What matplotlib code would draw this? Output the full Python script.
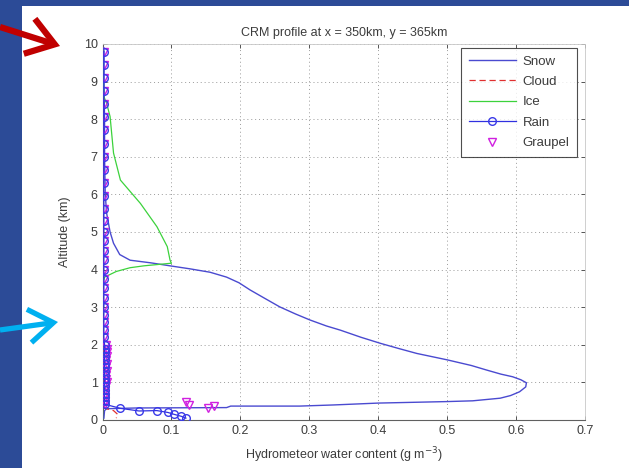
import matplotlib
matplotlib.use("Agg")
import matplotlib.pyplot as plt
from matplotlib.patches import Rectangle, FancyArrowPatch

plt.rcParams['font.family'] = ['Liberation Sans', 'DejaVu Sans']

# ---- profile data (altitude in km, water content in g m^-3) ----
snow_alt = [9.9, 9.0, 8.0, 7.0, 6.0, 5.5, 5.0, 4.7, 4.4, 4.25, 4.18, 4.1, 4.02,
            3.93, 3.8, 3.65, 3.46, 3.25, 3.01, 2.82, 2.66, 2.5, 2.39, 2.2, 2.04,
            1.9, 1.77, 1.6, 1.45, 1.33, 1.22, 1.15, 1.07, 0.99, 0.88, 0.75, 0.65,
            0.58, 0.51, 0.49, 0.45, 0.40, 0.37, 0.37, 0.33, 0.32, 0.30, 0.25, 0.05]
snow_val = [0.002, 0.002, 0.003, 0.003, 0.004, 0.006, 0.011, 0.016, 0.025, 0.04,
            0.07, 0.098, 0.127, 0.156, 0.18, 0.198, 0.214, 0.234, 0.257, 0.28,
            0.301, 0.325, 0.345, 0.375, 0.403, 0.43, 0.456, 0.5, 0.535, 0.557,
            0.578, 0.595, 0.607, 0.615, 0.614, 0.605, 0.592, 0.577, 0.537, 0.5,
            0.40, 0.335, 0.286, 0.186, 0.18, 0.05, 0.006, 0.003, 0.002]

ice_alt = [9.9, 8.6, 8.42, 8.07, 7.1, 6.38, 5.76, 5.14, 4.61, 4.25, 4.17,
           4.1, 4.05, 3.95, 3.8, 3.6, 0.0]
ice_val = [0.0, 0.002, 0.006, 0.011, 0.016, 0.026, 0.055, 0.079, 0.094, 0.098,
           0.1, 0.06, 0.04, 0.02, 0.003, 0.0, 0.0]

cloud_alt = [9.9, 5.0, 2.0, 1.4, 1.2, 0.9, 0.6, 0.4, 0.32, 0.25, 0.15, 0.05]
cloud_val = [0.0, 0.0, 0.0, 0.001, 0.004, 0.004, 0.001, 0.0, 0.002, 0.016, 0.022, 0.02]

levels = [9.8, 9.45, 9.1, 8.75, 8.4, 8.05, 7.7, 7.35, 7.0, 6.65, 6.3, 5.95,
          5.6, 5.3, 5.0, 4.75, 4.5, 4.25, 4.0, 3.75, 3.5, 3.25, 3.0, 2.8,
          2.6, 2.4, 2.2, 2.0, 1.9, 1.8, 1.7, 1.6, 1.5, 1.4, 1.3, 1.2, 1.1,
          1.0, 0.9, 0.8, 0.7, 0.6, 0.5, 0.42]

rain_alt = levels + [0.31, 0.24, 0.25, 0.2, 0.15, 0.1, 0.05]
rain_val = [0.002] * 27 + [0.003] * 17 + [0.026, 0.053, 0.079, 0.095, 0.104, 0.114, 0.121]

graupel_alt = levels + [0.47, 0.40, 0.33, 0.37]
graupel_val = ([0.002] * 27 + [0.005, 0.006, 0.006, 0.006, 0.005, 0.006, 0.005,
                               0.006, 0.005, 0.005, 0.006, 0.005, 0.004, 0.004,
                               0.004, 0.003, 0.003]
               + [0.121, 0.126, 0.153, 0.162])

x_ticks = [0, 0.1, 0.2, 0.3, 0.4, 0.5, 0.6, 0.7]
x_tick_labels = ['0', '0.1', '0.2', '0.3', '0.4', '0.5', '0.6', '0.7']
y_ticks = list(range(0, 11))

W, H = 629, 468
fig = plt.figure(figsize=(W / 100, H / 100), dpi=100)
fig.patch.set_facecolor('#2C4B97')
fig.add_artist(Rectangle((22 / W, 0), (W - 22) / W, (H - 6) / H,
                         transform=fig.transFigure, facecolor='white',
                         edgecolor='none', zorder=-10))

ax = fig.add_axes([102.5 / W, 1 - 420 / H, (585 - 102.5) / W, (420 - 44) / H])
ax.set_facecolor('white')

txt = '#3c3c3c'
ax.plot(snow_val, snow_alt, color='#4a4ad0', lw=1.0, label='Snow', zorder=3)
ax.plot(cloud_val, cloud_alt, color='#e03030', lw=0.9, ls=(0, (5, 3)), label='Cloud', zorder=3)
ax.plot(ice_val, ice_alt, color='#3cd23c', lw=0.9, label='Ice', zorder=3)
ax.plot(rain_val, rain_alt, color='#3030e0', lw=0.9, marker='o', ms=5.5,
        mfc='none', mec='#3a3ae8', mew=1.0, label='Rain', zorder=5)
ax.plot(graupel_val, graupel_alt, ls='none', marker='v', ms=5.5,
        mfc='none', mec='#d020e0', mew=1.0, label='Graupel', zorder=4)

ax.set_xlim(0, 0.7)
ax.set_ylim(0, 10)
ax.set_xticks(x_ticks)
ax.set_xticklabels(x_tick_labels)
ax.set_yticks(y_ticks)
ax.tick_params(direction='in', top=True, right=True, labelsize=9,
               labelcolor=txt, color='#555555', length=3, width=0.7)
ax.grid(True, linestyle=(0, (1, 3)), color='#9a9a9a', linewidth=0.7)
for side in ['bottom', 'left']:
    ax.spines[side].set_color('#606060')
    ax.spines[side].set_linewidth(0.8)
for side in ['top', 'right']:
    ax.spines[side].set_color('#c8c8c8')
    ax.spines[side].set_linewidth(0.6)

ax.set_title('CRM profile at x = 350km, y = 365km', fontsize=9, color=txt, pad=6)
ax.set_xlabel('Hydrometeor water content (g m$^{-3}$)', fontsize=9, color=txt, labelpad=6)
ax.set_ylabel('Altitude (km)', fontsize=9, color=txt, labelpad=9)

handles, labels = ax.get_legend_handles_labels()
leg = ax.legend(handles, labels, loc='upper right', bbox_to_anchor=(0.983, 0.989),
                fontsize=9.5, frameon=True, fancybox=False, borderpad=0.55,
                labelspacing=0.62, handlelength=3.6, handletextpad=0.5,
                borderaxespad=0.0)
leg.get_frame().set_edgecolor('#222222')
leg.get_frame().set_linewidth(0.8)
for t in leg.get_texts():
    t.set_color(txt)

def fpt(x, y):
    return (x / W, 1 - y / H)

fig.add_artist(FancyArrowPatch(fpt(0, 27), fpt(60, 46), transform=fig.transFigure,
                               arrowstyle='->,head_length=0.8,head_width=0.55',
                               color='#C00000', lw=4.5, mutation_scale=24,
                               shrinkA=0, shrinkB=0, capstyle='butt',
                               joinstyle='miter', zorder=20))
fig.add_artist(FancyArrowPatch(fpt(0, 330), fpt(58, 322), transform=fig.transFigure,
                               arrowstyle='->,head_length=0.8,head_width=0.55',
                               color='#00B0F0', lw=3.8, mutation_scale=22,
                               shrinkA=0, shrinkB=0, capstyle='butt',
                               joinstyle='miter', zorder=20))

fig.savefig('out.png', dpi=100, facecolor=fig.get_facecolor())
